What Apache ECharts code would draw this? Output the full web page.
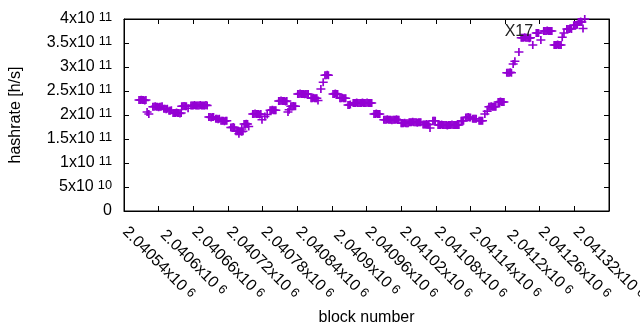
<!DOCTYPE html>
<html>
<head>
<meta charset="UTF-8">
<title>hashrate</title>
<script src="https://cdn.jsdelivr.net/npm/echarts@6/dist/echarts.min.js"></script>
</head>
<body style="margin: 0">
<div id="main" style="width: 640px; height: 330px"></div>
<script>
  // block numbers and hashrate (in units of 1e11 h/s)
  // one line per run of blocks, same layout in both arrays
  const blocks = [
    2040506, 2040508, 2040510, 2040512, 2040514, 2040516, 2040518,
    2040520, 2040523,
    2040530, 2040532, 2040534, 2040536, 2040538, 2040540, 2040542, 2040544, 2040546,
    2040549, 2040551, 2040553, 2040555, 2040558, 2040560, 2040562,
    2040565, 2040567, 2040569, 2040571, 2040573, 2040575, 2040577, 2040579,
    2040580, 2040582, 2040584, 2040586, 2040588, 2040591,
    2040596, 2040598, 2040600, 2040602, 2040604, 2040606, 2040608, 2040610, 2040612, 2040614, 2040616, 2040618, 2040620, 2040622, 2040624,
    2040627, 2040629, 2040631, 2040633, 2040635, 2040639, 2040641, 2040643, 2040645,
    2040648, 2040650, 2040652, 2040654, 2040656, 2040658,
    2040665, 2040667, 2040669, 2040671,
    2040674, 2040676, 2040678, 2040680, 2040682, 2040684, 2040686, 2040679,
    2040684, 2040688, 2040690, 2040692, 2040694, 2040696,
    2040703, 2040705, 2040707, 2040709, 2040711, 2040713, 2040715, 2040717,
    2040719, 2040724, 2040728,
    2040733, 2040735, 2040737, 2040739, 2040741, 2040743,
    2040748, 2040750, 2040752, 2040754, 2040756, 2040758, 2040760, 2040762,
    2040764, 2040766,
    2040769, 2040771, 2040773, 2040775, 2040777,
    2040781, 2040783, 2040785, 2040787, 2040789, 2040791, 2040793, 2040795, 2040797, 2040799,
    2040804, 2040806, 2040808, 2040810, 2040812, 2040814, 2040816,
    2040821, 2040825,
    2040828, 2040830, 2040832, 2040834,
    2040842, 2040844, 2040846, 2040848, 2040850,
    2040854, 2040856, 2040858, 2040860, 2040862, 2040864,
    2040868, 2040870, 2040872,
    2040877, 2040879, 2040881, 2040883, 2040885, 2040887, 2040889, 2040891, 2040893, 2040895, 2040897, 2040899, 2040901, 2040903, 2040905, 2040907, 2040909,
    2040913, 2040915, 2040917, 2040919, 2040921, 2040923,
    2040930, 2040932, 2040934, 2040936, 2040938, 2040940, 2040942, 2040944, 2040946, 2040948, 2040950, 2040952, 2040954, 2040956,
    2040960, 2040962, 2040964, 2040966, 2040968, 2040970, 2040972,
    2040974, 2040976, 2040978, 2040980, 2040982, 2040984, 2040986, 2040988, 2040990, 2040992, 2040994,
    2040998, 2041000, 2041002, 2041004, 2041006, 2041008, 2041010,
    2041015, 2041017, 2041019,
    2041024, 2041026, 2041028, 2041030, 2041032, 2041034, 2041036, 2041038, 2041040, 2041042, 2041044, 2041046, 2041048, 2041050, 2041052, 2041054, 2041056, 2041058, 2041060,
    2041064, 2041066, 2041068, 2041072, 2041074, 2041076, 2041078, 2041080,
    2041084, 2041086, 2041088, 2041090,
    2041095, 2041097, 2041099, 2041101,
    2041105, 2041109,
    2041112, 2041114, 2041116, 2041118, 2041120, 2041122, 2041124,
    2041128, 2041130, 2041132, 2041134, 2041136, 2041138,
    2041143, 2041145, 2041147, 2041149, 2041151,
    2041154, 2041157, 2041164,
    2041168, 2041170, 2041172, 2041174, 2041176, 2041178, 2041180, 2041182, 2041184,
    2041188,
    2041194, 2041196, 2041198, 2041202,
    2041207, 2041209, 2041211, 2041213, 2041215, 2041217, 2041219, 2041221,
    2041225, 2041227, 2041229, 2041231, 2041233, 2041235, 2041237,
    2041239, 2041242,
    2041247, 2041249, 2041251, 2041253, 2041255,
    2041259, 2041261, 2041263, 2041265, 2041267, 2041269, 2041271, 2041273,
    2041275, 2041278
  ];
  const hashrate = [
    2.31, 2.31, 2.32, 2.31, 2.31, 2.30, 2.31,
    2.06, 2.02,
    2.17, 2.17, 2.18, 2.17, 2.17, 2.16, 2.17, 2.17, 2.18,
    2.13, 2.13, 2.12, 2.13, 2.09, 2.09, 2.10,
    2.04, 2.04, 2.04, 2.05, 2.04, 2.04, 2.03, 2.04,
    2.18, 2.18, 2.19, 2.18, 2.18, 2.14,
    2.20, 2.20, 2.20, 2.21, 2.20, 2.20, 2.20, 2.20, 2.21, 2.20, 2.20, 2.20, 2.20, 2.21, 2.20,
    1.96, 1.96, 1.95, 1.96, 1.96, 1.92, 1.92, 1.91, 1.92,
    1.88, 1.88, 1.88, 1.87, 1.88, 1.88,
    1.74, 1.74, 1.75, 1.74,
    1.66, 1.66, 1.67, 1.66, 1.66, 1.65, 1.66, 1.61,
    1.71, 1.81, 1.81, 1.82, 1.81, 1.76,
    2.02, 2.02, 2.03, 2.02, 2.02, 2.02, 2.01, 2.02,
    1.90, 1.97, 2.01,
    2.10, 2.10, 2.11, 2.10, 2.10, 2.10,
    2.29, 2.29, 2.30, 2.29, 2.29, 2.29, 2.28, 2.29,
    2.06, 2.11,
    2.18, 2.18, 2.19, 2.18, 2.18,
    2.44, 2.44, 2.45, 2.44, 2.44, 2.44, 2.43, 2.44, 2.44, 2.44,
    2.35, 2.35, 2.36, 2.35, 2.35, 2.35, 2.30,
    2.54, 2.68,
    2.83, 2.83, 2.84, 2.83,
    2.44, 2.44, 2.45, 2.44, 2.44,
    2.35, 2.35, 2.36, 2.35, 2.35, 2.35,
    2.21, 2.21, 2.22,
    2.25, 2.25, 2.25, 2.26, 2.25, 2.25, 2.25, 2.25, 2.26, 2.25, 2.25, 2.25, 2.26, 2.25, 2.25, 2.25, 2.25,
    2.02, 2.02, 2.03, 2.02, 2.02, 2.02,
    1.90, 1.90, 1.90, 1.91, 1.90, 1.90, 1.90, 1.89, 1.90, 1.90, 1.90, 1.91, 1.90, 1.90,
    1.83, 1.83, 1.83, 1.84, 1.83, 1.83, 1.83,
    1.85, 1.85, 1.85, 1.86, 1.85, 1.85, 1.85, 1.84, 1.85, 1.85, 1.85,
    1.80, 1.80, 1.80, 1.81, 1.80, 1.80, 1.73,
    1.88, 1.88, 1.88,
    1.79, 1.79, 1.79, 1.80, 1.79, 1.79, 1.79, 1.79, 1.78, 1.79, 1.79, 1.79, 1.80, 1.79, 1.79, 1.79, 1.79, 1.79, 1.79,
    1.88, 1.88, 1.88, 1.95, 1.95, 1.96, 1.95, 1.95,
    1.92, 1.92, 1.92, 1.92,
    1.88, 1.88, 1.88, 1.88,
    2.02, 2.08,
    2.17, 2.17, 2.18, 2.17, 2.17, 2.17, 2.17,
    2.27, 2.27, 2.28, 2.27, 2.27, 2.27,
    2.88, 2.88, 2.88, 2.89, 2.88,
    3.06, 3.12, 3.31,
    3.61, 3.61, 3.61, 3.62, 3.61, 3.61, 3.61, 3.60, 3.61,
    3.46,
    3.71, 3.71, 3.71, 3.56,
    3.75, 3.75, 3.75, 3.76, 3.75, 3.75, 3.75, 3.75,
    3.46, 3.46, 3.46, 3.47, 3.46, 3.46, 3.46,
    3.62, 3.71,
    3.79, 3.79, 3.79, 3.80, 3.79,
    3.87, 3.87, 3.87, 3.88, 3.94, 3.94, 3.95, 3.94,
    3.80, 4.00
  ];
  const xMin = 2040480, xMax = 2041320, xStep = 60;
  const yMin = 0, yMax = 4e11, yStep = 5e10;
  const note = { text: 'X17', block: 2041164, value: 3.73e11 };

  const font = 'Liberation Sans, Arial, sans-serif';
  const purple = '#9400d3';
  const plus = 'path://M0,6.5H16V9.5H0Z M6.5,0H9.5V16H6.5Z';

  function sci(v) {
    if (v === 0) return '{m|0}';
    const e = Math.floor(Math.log10(v) + 1e-9);
    const m = +(v / Math.pow(10, e)).toFixed(5);
    return '{m|' + m + 'x10}{s|' + e + '}';
  }
  const rich = {
    m: { fontSize: 16, fontFamily: font, color: '#000' },
    s: { fontSize: 12.8, fontFamily: font, color: '#000', verticalAlign: 'top', padding: [0, 0, 0, 4] }
  };

  const baseX = {
    type: 'value', min: xMin, max: xMax, interval: xStep,
    axisLine: { show: true, onZero: false, lineStyle: { color: '#000', width: 1 } },
    axisTick: { show: true, inside: true, length: 5, lineStyle: { color: '#000' } },
    splitLine: { show: false }
  };
  const baseY = {
    type: 'value', min: yMin, max: yMax, interval: yStep,
    axisLine: { show: true, onZero: false, lineStyle: { color: '#000', width: 1 } },
    axisTick: { show: true, inside: true, length: 5, lineStyle: { color: '#000' } },
    splitLine: { show: false }
  };

  const option = {
    animation: false,
    backgroundColor: '#fff',
    grid: {
      left: 124, right: 31, top: 19, bottom: 119,
      containLabel: false, outerBoundsMode: 'none',
      show: true, borderColor: '#000', borderWidth: 1
    },
    xAxis: [
      Object.assign({}, baseX, {
        position: 'bottom',
        name: 'block number', nameLocation: 'middle', nameGap: 98,
        nameTextStyle: { fontSize: 16, fontFamily: font, color: '#000' },
        axisLabel: {
          rotate: -45, align: 'center', verticalAlign: 'middle', margin: 52,
          hideOverlap: false, showMinLabel: false, showMaxLabel: true,
          formatter: v => v === xMin ? '' : '{m|' + +(v / 1e6).toFixed(5) + 'x10}{s|6}',
          rich: rich
        }
      }),
      Object.assign({}, baseX, { position: 'top', axisLabel: { show: false } })
    ],
    yAxis: [
      Object.assign({}, baseY, {
        position: 'left',
        name: 'hashrate [h/s]', nameLocation: 'middle', nameGap: 100, nameRotate: 90,
        nameTextStyle: { fontSize: 16, fontFamily: font, color: '#000' },
        axisLabel: { margin: 12, formatter: sci, rich: rich }
      }),
      Object.assign({}, baseY, { position: 'right', axisLabel: { show: false } })
    ],
    series: [{
      type: 'scatter',
      symbol: plus,
      symbolSize: [9, 8],
      clip: false,
      itemStyle: { color: purple, opacity: 1 },
      data: blocks.map((b, i) => [b, hashrate[i] * 1e11]),
      markPoint: {
        symbol: 'circle', symbolSize: 0,
        label: { show: true, position: 'inside', formatter: note.text, fontSize: 16, fontFamily: font, color: '#222' },
        data: [{ coord: [note.block, note.value] }]
      }
    }]
  };

  const chart = echarts.init(document.getElementById('main'));
  chart.setOption(option);
</script>
</body>
</html>
